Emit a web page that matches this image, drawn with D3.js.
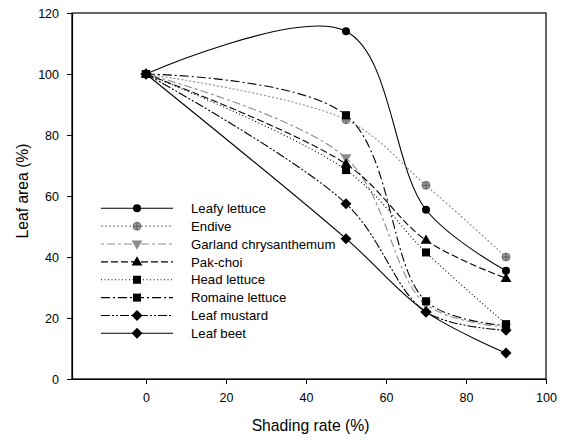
<!DOCTYPE html>
<html>
<head>
<meta charset="utf-8">
<script src="https://cdn.jsdelivr.net/npm/d3@7"></script>
<style>
  body { margin: 0; background: #fff; }
  svg { font-family: "Liberation Sans", Arial, sans-serif; }
</style>
</head>
<body>
<div id="graph"></div>
<script>
// shading levels (%) and leaf area (%) per crop
var shading = [0, 50, 70, 90];
var leafyLettuce = [100, 114, 55.5, 35.5];
var endive = [100, 85, 63.5, 40];
var garland = [100, 72.5, 24.5, 17];
var pakChoi = [100, 70.5, 45.5, 33];
var headLettuce = [100, 68.5, 41.5, 18];
var romaine = [100, 86.5, 25.5, 17.5];
var leafMustard = [100, 57.5, 22, 16];
var leafBeet = [100, 46, 22, 8.5];

var names = ["Leafy lettuce", "Endive", "Garland chrysanthemum", "Pak-choi",
             "Head lettuce", "Romaine lettuce", "Leaf mustard", "Leaf beet"];
var xTicks = [0, 20, 40, 60, 80, 100];
var yTicks = [0, 20, 40, 60, 80, 100, 120];

var series = [
  {name: names[0], values: leafyLettuce, dash: null,            color: "#000", marker: "circle"},
  {name: names[1], values: endive,       dash: "2,2",           color: "#8c8c8c", marker: "crosscircle"},
  {name: names[2], values: garland,      dash: "3,3,8,3",       color: "#8c8c8c", marker: "triangleDown"},
  {name: names[3], values: pakChoi,      dash: "7,3",           color: "#000", marker: "triangle"},
  {name: names[4], values: headLettuce,  dash: "1,2.5",         color: "#000", marker: "square"},
  {name: names[5], values: romaine,      dash: "9,3,2,3",       color: "#000", marker: "square"},
  {name: names[6], values: leafMustard,  dash: "9,2,2,2,2,2",   color: "#000", marker: "diamond"},
  {name: names[7], values: leafBeet,     dash: null,            color: "#000", marker: "diamond"}
];

var svg = d3.select("#graph").append("svg").attr("width", 568).attr("height", 442);

var x = d3.scaleLinear().domain([-18.5, 100]).range([72, 546]);
var y = d3.scaleLinear().domain([0, 120]).range([379, 13]);

// frame
svg.append("rect")
  .attr("x", 72).attr("y", 13).attr("width", 474).attr("height", 366)
  .attr("fill", "none").attr("stroke", "#000").attr("stroke-width", 1.2);

var xAxis = d3.axisBottom(x).tickValues(xTicks).tickSize(5).tickSizeOuter(0).tickPadding(9);
var yAxis = d3.axisLeft(y).tickValues(yTicks).tickSize(5).tickSizeOuter(0).tickPadding(8);

var gx = svg.append("g").attr("transform", "translate(0,379)").call(xAxis);
var gy = svg.append("g").attr("transform", "translate(72,0)").call(yAxis);
[gx, gy].forEach(function(g){
  g.select(".domain").attr("stroke", "#000").attr("stroke-width", 1.2);
  g.selectAll(".tick line").attr("stroke", "#000");
  g.selectAll("text").attr("font-size", "12.5px").attr("fill", "#000")
    .attr("font-family", "'Liberation Sans', Arial, sans-serif");
});

svg.append("text")
  .attr("x", 310.5).attr("y", 431)
  .attr("text-anchor", "middle")
  .attr("font-size", "15.7px")
  .text("Shading rate (%)");

svg.append("text")
  .attr("transform", "translate(28,191) rotate(-90)")
  .attr("text-anchor", "middle")
  .attr("font-size", "15.7px")
  .text("Leaf area (%)");

var line = d3.line()
  .x(function(d){ return x(d[0]); })
  .y(function(d){ return y(d[1]); })
  .curve(d3.curveCatmullRom);

function drawMarker(g, type, cx, cy, color) {
  if (type === "circle") {
    g.append("circle").attr("cx", cx).attr("cy", cy).attr("r", 4).attr("fill", "#000");
  } else if (type === "crosscircle") {
    g.append("circle").attr("cx", cx).attr("cy", cy).attr("r", 4)
      .attr("fill", "#9a9a9a").attr("stroke", "#666").attr("stroke-width", 0.8);
    g.append("path").attr("d", "M" + (cx - 4) + "," + cy + "h8M" + cx + "," + (cy - 4) + "v8")
      .attr("stroke", "#555").attr("stroke-width", 0.9);
  } else if (type === "triangle") {
    g.append("path").attr("d", d3.symbol(d3.symbolTriangle, 50)())
      .attr("transform", "translate(" + cx + "," + (cy + 0.5) + ")").attr("fill", "#000");
  } else if (type === "triangleDown") {
    g.append("path").attr("d", d3.symbol(d3.symbolTriangle, 50)())
      .attr("transform", "translate(" + cx + "," + (cy - 0.5) + ") rotate(180)")
      .attr("fill", "#8c8c8c");
  } else if (type === "square") {
    g.append("rect").attr("x", cx - 4).attr("y", cy - 4).attr("width", 8).attr("height", 8)
      .attr("fill", "#000");
  } else if (type === "diamond") {
    g.append("path").attr("d", "M" + cx + "," + (cy - 5.5) + "L" + (cx + 5.5) + "," + cy +
      "L" + cx + "," + (cy + 5.5) + "L" + (cx - 5.5) + "," + cy + "Z").attr("fill", "#000");
  }
}

var plot = svg.append("g");
series.forEach(function(s){
  var pts = shading.map(function(v, i){ return [v, s.values[i]]; });
  plot.append("path")
    .datum(pts)
    .attr("d", line)
    .attr("fill", "none")
    .attr("stroke", s.color)
    .attr("stroke-width", 1.1)
    .attr("stroke-dasharray", s.dash);
});
series.forEach(function(s){
  var g = plot.append("g");
  shading.forEach(function(v, i){
    drawMarker(g, s.marker, x(v), y(s.values[i]), s.color);
  });
});

// legend
var legend = svg.append("g");
series.forEach(function(s, i){
  var ly = 208.3 + i * 17.86;
  var g = legend.append("g");
  g.append("line")
    .attr("x1", 101).attr("x2", 173).attr("y1", ly).attr("y2", ly)
    .attr("stroke", s.color).attr("stroke-width", 1.1)
    .attr("stroke-dasharray", s.dash);
  drawMarker(g, s.marker, 137, ly, s.color);
  g.append("text")
    .attr("x", 191).attr("y", ly).attr("dy", "0.35em")
    .attr("font-size", "13.2px")
    .text(s.name);
});
</script>
</body>
</html>
